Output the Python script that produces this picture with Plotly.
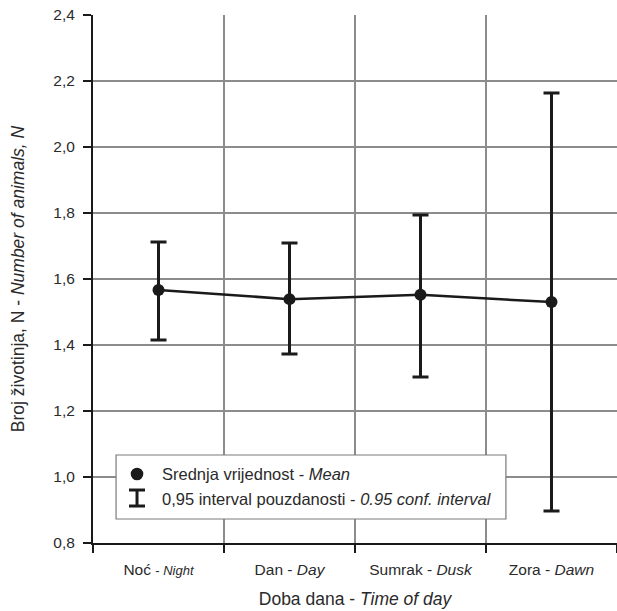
import plotly.graph_objects as go

# Data
categories = ["Noć <span style='font-size:13px'>- <i>Night</i></span>", "Dan - <i>Day</i>",
              "Sumrak - <i>Dusk</i>", "Zora - <i>Dawn</i>"]
means = [1.567, 1.539, 1.552, 1.530]
upper = [1.712, 1.709, 1.794, 2.164]
lower = [1.415, 1.373, 1.303, 0.897]
y_ticks = [0.8, 1.0, 1.2, 1.4, 1.6, 1.8, 2.0, 2.2, 2.4]

xpos = list(range(len(categories)))
err_plus = [u - m for u, m in zip(upper, means)]
err_minus = [m - l for m, l in zip(means, lower)]

FONT = "Liberation Sans, Arial, sans-serif"
TXT = "#2a2a2a"
GRID = "#8c8c8c"

fig = go.Figure()
fig.add_trace(go.Scatter(
    x=xpos, y=means, mode="lines+markers",
    line=dict(color="#1a1a1a", width=2.5),
    marker=dict(color="#1a1a1a", size=12),
    error_y=dict(type="data", symmetric=False, array=err_plus, arrayminus=err_minus,
                 color="#1a1a1a", thickness=3, width=8),
    showlegend=False, cliponaxis=False,
))

fig.update_layout(
    width=617, height=611,
    margin=dict(l=93, r=0, t=15, b=68),
    paper_bgcolor="white", plot_bgcolor="white",
    separators=", ",
    font=dict(family=FONT, color=TXT, size=15.5),
    xaxis=dict(
        range=[-0.5, 3.5], tickvals=xpos, ticktext=categories,
        ticks="", showgrid=False, zeroline=False, automargin=False,
        ticklabelstandoff=11,
        showline=True, linecolor="#1a1a1a", linewidth=2,
        tickfont=dict(size=15.5, color=TXT),
        minor=dict(tick0=0.5, dtick=1, ticks="outside", ticklen=8, tickwidth=2,
                   tickcolor="#1a1a1a", showgrid=True, gridcolor=GRID, gridwidth=1.5),
        title=dict(text="Doba dana - <i>Time of day</i>", font=dict(size=17.5, color=TXT), standoff=16),
    ),
    yaxis=dict(
        range=[0.8, 2.4], tickvals=y_ticks, tickformat=".1f",
        ticks="outside", ticklen=8, tickwidth=2, tickcolor="#1a1a1a",
        ticklabelstandoff=5, ticklabeloverflow="allow",
        showgrid=True, gridcolor=GRID, gridwidth=1.5, zeroline=False, automargin=False,
        showline=True, linecolor="#1a1a1a", linewidth=2,
        tickfont=dict(size=15.5, color=TXT),
        title=dict(text="Broj životinja, N - <i>Number of animals, N</i>",
                   font=dict(size=17.5, color=TXT), standoff=24),
    ),
)

# Legend box (manual)
fig.add_shape(type="rect", xref="paper", yref="paper",
              x0=0.044, x1=0.788, y0=0.0455, y1=0.1667,
              line=dict(color="#7a7a7a", width=1.2), fillcolor="white", layer="above")
fig.add_shape(type="circle", xref="paper", yref="paper", xsizemode="pixel", ysizemode="pixel",
              xanchor=0.084, yanchor=0.1307, x0=-6.3, x1=6.3, y0=-6.3, y1=6.3,
              fillcolor="#1a1a1a", line=dict(color="#1a1a1a", width=0), layer="above")
# I-bar symbol
for (x0, x1, y0, y1) in [(-8, 8, 8, 8), (-8, 8, -8, -8), (0, 0, -8, 8)]:
    fig.add_shape(type="line", xref="paper", yref="paper", xsizemode="pixel", ysizemode="pixel",
                  xanchor=0.084, yanchor=0.0852, x0=x0, x1=x1, y0=y0, y1=y1,
                  line=dict(color="#1a1a1a", width=3), layer="above")
fig.add_annotation(xref="paper", yref="paper", x=0.128, y=0.1307, xanchor="left", yanchor="middle",
                   text="Srednja vrijednost - <i>Mean</i>", showarrow=False,
                   font=dict(size=16.5, color=TXT))
fig.add_annotation(xref="paper", yref="paper", x=0.128, y=0.0833, xanchor="left", yanchor="middle",
                   text="0,95 interval pouzdanosti - <i>0.95 conf. interval</i>", showarrow=False,
                   font=dict(size=16.5, color=TXT))

# remove the browser's default 8px body margin so the figure fills the window exactly
fig.write_html("out.html", config={"displayModeBar": False},
               post_script="document.body.style.margin='0';document.body.style.overflow='hidden';")
